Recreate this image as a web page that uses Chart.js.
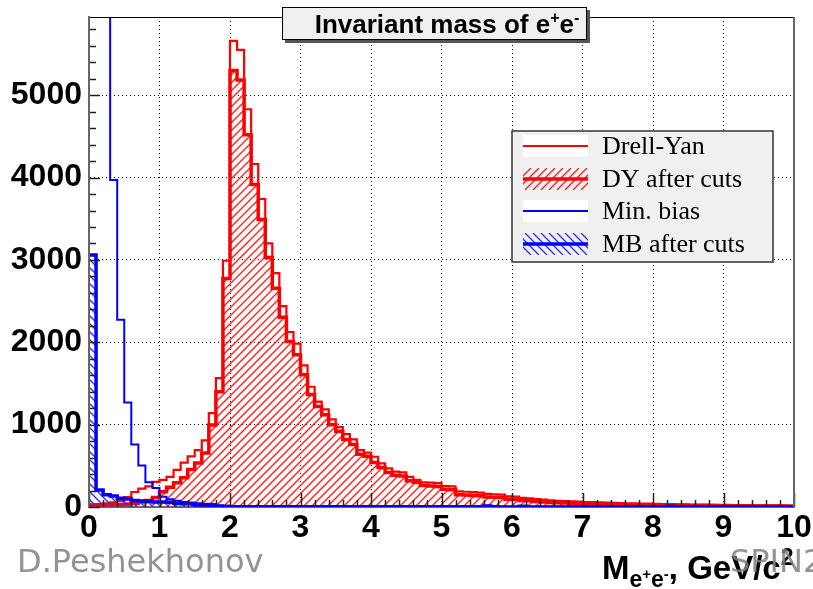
<!DOCTYPE html>
<html>
<head>
<meta charset="utf-8">
<script src="https://cdn.jsdelivr.net/npm/chart.js@4.4.0/dist/chart.umd.min.js"></script>
<style>
body { margin: 0; background: #fff; }
#chart-container { width: 813px; height: 589px; position: relative; }
</style>
</head>
<body>
<div id="chart-container"><canvas id="chart"></canvas></div>
<script>
// histogram binning: 100 bins of 0.1 GeV/c^2
var binWidth = 0.1;
var binLow = [];
for (var i = 0; i < 100; i++) binLow.push(Math.round(i * binWidth * 10) / 10);

var xTicks = [0, 1, 2, 3, 4, 5, 6, 7, 8, 9, 10];
var yTicks = [0, 1000, 2000, 3000, 4000, 5000];
var yMax = 5950;

var drellYan = [
  30, 35, 45, 55, 75, 121, 182, 223, 251, 304,
  330, 365, 450, 540, 615, 690, 810, 1140, 1565, 2990,
  5660, 5550, 4830, 4165, 3740, 3200, 2840, 2440, 2125, 1985,
  1720, 1460, 1280, 1185, 1065, 970, 885, 820, 690, 660,
  610, 530, 470, 430, 420, 365, 330, 300, 295, 290,
  255, 250, 190, 185, 180, 175, 160, 155, 150, 130,
  125, 110, 105, 95, 90, 80, 75, 72, 70, 65,
  60, 58, 55, 52, 50, 48, 45, 44, 42, 40,
  38, 36, 35, 33, 32, 30, 30, 28, 27, 26,
  25, 24, 23, 22, 21, 20, 20, 19, 18, 17
];
var dyAfterCuts = [
  20, 22, 25, 28, 30, 35, 45, 60, 80, 115,
  185, 240, 295, 355, 455, 535, 655, 995, 1400, 2775,
  5300, 5185, 4520, 3915, 3490, 3030, 2655, 2305, 2010, 1850,
  1605, 1365, 1220, 1120, 1000, 920, 820, 760, 640, 615,
  540, 480, 420, 385, 375, 320, 300, 260, 255, 250,
  215, 210, 150, 145, 140, 138, 120, 118, 115, 95,
  90, 78, 75, 68, 62, 55, 52, 48, 46, 44,
  40, 38, 36, 35, 33, 31, 30, 28, 27, 26,
  25, 24, 22, 21, 20, 19, 18, 18, 17, 16,
  15, 15, 14, 13, 13, 12, 12, 11, 11, 10
];
var minBias = [
  30000, 26000, 12000, 3970, 2275, 1270, 760, 505, 300, 230,
  125, 95, 75, 62, 55, 45, 40, 35, 20, 15,
  12, 12, 11, 11, 10, 10, 9, 9, 9, 8,
  8, 8, 7, 7, 7, 7, 6, 6, 6, 6,
  6, 5, 5, 5, 5, 5, 5, 4, 4, 4,
  4, 4, 4, 4, 4, 4, 14, 4, 3, 3,
  3, 12, 3, 3, 3, 3, 3, 3, 3, 3,
  3, 3, 2, 2, 2, 2, 2, 2, 2, 2,
  2, 2, 12, 2, 2, 2, 2, 2, 2, 2,
  2, 2, 2, 2, 2, 2, 2, 2, 2, 2
];
var mbAfterCuts = [
  3060, 205, 150, 135, 105, 98, 78, 72, 70, 62,
  60, 58, 45, 40, 38, 24, 20, 17, 6, 5,
  4, 4, 4, 3, 3, 3, 3, 3, 3, 3,
  3, 3, 2, 2, 2, 2, 2, 2, 2, 2,
  2, 2, 2, 2, 2, 2, 2, 2, 2, 2,
  2, 2, 2, 2, 2, 2, 12, 2, 1, 1,
  1, 10, 1, 1, 1, 1, 1, 1, 1, 1,
  1, 1, 1, 1, 1, 1, 1, 1, 1, 1,
  1, 1, 10, 1, 1, 1, 1, 1, 1, 1,
  1, 1, 1, 1, 1, 1, 1, 1, 1, 1
];
var legendLabels = ['Drell-Yan', 'DY after cuts', 'Min. bias', 'MB after cuts'];

// ヒストグラムの点（左端＋最後の右端）
function histPoints(vals) {
  var pts = binLow.map(function(x, i) { return { x: x, y: vals[i] }; });
  pts.push({ x: binLow[binLow.length - 1] + binWidth, y: vals[vals.length - 1] });
  return pts;
}

// 斜線を引く（クリップ済みの領域に）
function strokeHatch(c, box, color, dir) {
  var h = box.bottom - box.top;
  c.setLineDash([]);
  c.strokeStyle = color;
  c.lineWidth = 1.4;
  c.beginPath();
  for (var x = box.left - h - 8; x <= box.right + h; x += 8) {
    if (dir > 0) { c.moveTo(x, box.bottom); c.lineTo(x + h, box.top); }
    else { c.moveTo(x, box.top); c.lineTo(x + h, box.bottom); }
  }
  c.stroke();
}

var hatchFill = {
  id: 'hatchFill',
  beforeDatasetDraw: function(chart, args) {
    var d = chart.data.datasets[args.index];
    if (!d.hatchColor) return;
    var c = chart.ctx, a = chart.chartArea;
    var pts = args.meta.data;
    c.save();
    c.beginPath();
    c.rect(a.left, a.top, a.right - a.left, a.bottom - a.top);
    c.clip();
    c.beginPath();
    c.moveTo(pts[0].x, a.bottom);
    for (var k = 0; k < pts.length - 1; k++) {
      c.lineTo(pts[k].x, pts[k].y);
      c.lineTo(pts[k + 1].x, pts[k].y);
    }
    c.lineTo(pts[pts.length - 1].x, a.bottom);
    c.closePath();
    c.clip();
    strokeHatch(c, a, d.hatchColor, d.hatchDir);
    c.restore();
  }
};

var rootStyle = {
  id: 'rootStyle',
  beforeDraw: function(chart) {
    var c = chart.ctx;
    c.save();
    c.fillStyle = '#fff';
    c.fillRect(0, 0, chart.width, chart.height);
    c.restore();
  },
  afterDatasetsDraw: function(chart) {
    var c = chart.ctx, a = chart.chartArea;
    var xs = chart.scales.x, ys = chart.scales.y;
    c.save();
    // ticks inside the frame
    c.strokeStyle = '#222';
    c.lineWidth = 1.5;
    c.beginPath();
    for (var k = 0; k <= 50; k++) {
      var px = Math.round(xs.getPixelForValue(k * 0.2)) + 0.5;
      var len = (k % 5 === 0) ? 14 : 7;
      c.moveTo(px, a.bottom);
      c.lineTo(px, a.bottom - len);
    }
    for (var j = 0; j * 200 <= yMax; j++) {
      var py = Math.round(ys.getPixelForValue(j * 200)) + 0.5;
      var ylen = (j % 5 === 0) ? 11 : 7;
      c.moveTo(a.left, py);
      c.lineTo(a.left + ylen, py);
    }
    c.stroke();
    // frame
    c.strokeStyle = '#000';
    c.lineWidth = 1.2;
    c.beginPath();
    c.moveTo(a.left, a.top + 0.5);
    c.lineTo(a.right, a.top + 0.5);
    c.stroke();
    c.strokeStyle = '#666';
    c.lineWidth = 2;
    c.beginPath();
    c.moveTo(a.right, a.top);
    c.lineTo(a.right, a.bottom);
    c.moveTo(a.left, a.top);
    c.lineTo(a.left, a.bottom);
    c.stroke();
    c.restore();
  },
  afterDraw: function(chart) {
    var c = chart.ctx;
    c.save();
    // title box
    c.fillStyle = '#555';
    c.fillRect(285, 10, 305, 33);
    c.fillStyle = '#f0f0f0';
    c.fillRect(282, 7, 305, 33);
    c.strokeStyle = '#000';
    c.lineWidth = 1;
    c.strokeRect(282.5, 7.5, 304, 32);
    c.fillStyle = '#000';
    c.textBaseline = 'alphabetic';
    var big = 'bold 26px "Liberation Sans", Arial, sans-serif';
    var sup = 'bold 16px "Liberation Sans", Arial, sans-serif';
    var parts = [['Invariant mass of e', big, 0], ['+', sup, -10], ['e', big, 0], ['-', sup, -10]];
    var tw = 0;
    parts.forEach(function(p) { c.font = p[1]; tw += c.measureText(p[0]).width; });
    var tx = 447 - tw / 2;
    parts.forEach(function(p) { c.font = p[1]; c.fillText(p[0], tx, 33 + p[2]); tx += c.measureText(p[0]).width; });

    // legend
    c.fillStyle = '#f0f0f0';
    c.fillRect(512, 131, 261, 131);
    c.strokeStyle = '#333';
    c.lineWidth = 1.5;
    c.strokeRect(512, 131, 261, 131);
    var rows = [146, 179, 211, 244];
    var ds = chart.data.datasets;
    legendLabels.forEach(function(lab, r) {
      var d = ds.filter(function(q) { return q.label === lab; })[0];
      var y = rows[r];
      var box = { left: 523, right: 588, top: y - 11, bottom: y + 11 };
      c.save();
      c.beginPath();
      c.rect(box.left, box.top, 65, 22);
      c.clip();
      if (d.hatchColor) {
        strokeHatch(c, box, d.hatchColor, d.hatchDir);
      } else {
        c.fillStyle = '#fff';
        c.fillRect(box.left, box.top, 65, 22);
      }
      c.restore();
      c.strokeStyle = d.borderColor;
      c.lineWidth = d.borderWidth;
      c.beginPath();
      c.moveTo(523, y);
      c.lineTo(588, y);
      c.stroke();
      c.fillStyle = '#000';
      c.font = '26px "Liberation Serif", "Times New Roman", serif';
      c.textBaseline = 'middle';
      c.fillText(d.label, 602, y + 1);
    });

    // axis title
    c.textBaseline = 'alphabetic';
    var f1 = 'bold 33px "Liberation Sans", Arial, sans-serif';
    var f2 = 'bold 23px "Liberation Sans", Arial, sans-serif';
    var f3 = 'bold 15px "Liberation Sans", Arial, sans-serif';
    var ax = [['M', f1, 0], ['e', f2, 8], ['+', f3, 0], ['e', f2, 8], ['-', f3, 0], [', GeV/c', f1, 0], ['2', f2, -14]];
    var x0 = 602;
    ax.forEach(function(p) { c.font = p[1]; c.fillText(p[0], x0, 579 + p[2]); x0 += c.measureText(p[0]).width; });

    // watermark texts
    c.fillStyle = 'rgba(128,128,128,0.85)';
    c.font = '32px "DejaVu Sans", sans-serif';
    c.fillText('D.Peshekhonov', 17, 572);
    c.fillText('SPIN2', 730, 572);
    c.restore();
  }
};

var chart = new Chart(document.getElementById('chart').getContext('2d'), {
  type: 'line',
  data: {
    datasets: [{
      label: 'MB after cuts',
      data: histPoints(mbAfterCuts),
      borderColor: '#0000ff',
      borderWidth: 3.5,
      hatchColor: '#3333ff',
      hatchDir: -1,
      fill: false,
      order: 1
    }, {
      label: 'Min. bias',
      data: histPoints(minBias),
      borderColor: '#0000ff',
      borderWidth: 2,
      fill: false,
      order: 2
    }, {
      label: 'Drell-Yan',
      data: histPoints(drellYan),
      borderColor: '#ff0000',
      borderWidth: 2.2,
      fill: false,
      order: 3
    }, {
      label: 'DY after cuts',
      data: histPoints(dyAfterCuts),
      borderColor: '#ff0000',
      borderWidth: 3.5,
      hatchColor: '#ff2020',
      hatchDir: 1,
      fill: false,
      order: 4
    }]
  },
  options: {
    responsive: true,
    maintainAspectRatio: false,
    animation: false,
    events: [],
    elements: { point: { radius: 0 }, line: { tension: 0, stepped: true } },
    layout: { padding: { top: 17, right: 19, left: 0, bottom: 0 } },
    plugins: { legend: { display: false }, tooltip: { enabled: false }, title: { display: false } },
    scales: {
      x: {
        type: 'linear',
        min: 0,
        max: 10,
        afterBuildTicks: function(s) { s.ticks = xTicks.map(function(v) { return { value: v }; }); },
        afterFit: function(s) { s.height = 82; s.paddingLeft = 0; s.paddingRight = 0; },
        grid: { color: '#000', lineWidth: 1, drawTicks: false },
        border: { display: true, color: '#666', width: 2, dash: [1, 3] },
        ticks: {
          autoSkip: false,
          maxRotation: 0,
          padding: 2,
          color: '#000',
          callback: function(v) { return String(v); },
          font: { family: '"Liberation Sans", Arial, sans-serif', size: 32, weight: 'bold' }
        }
      },
      y: {
        min: 0,
        max: yMax,
        afterBuildTicks: function(s) { s.ticks = yTicks.map(function(v) { return { value: v }; }); },
        afterFit: function(s) { s.width = 89; s.paddingTop = 0; s.paddingBottom = 0; },
        grid: { color: '#000', lineWidth: 1, drawTicks: false },
        border: { display: true, color: '#666', width: 2, dash: [1, 3] },
        ticks: {
          autoSkip: false,
          padding: 7,
          color: '#000',
          callback: function(v) { return String(v); },
          font: { family: '"Liberation Sans", Arial, sans-serif', size: 32, weight: 'bold' }
        }
      }
    }
  },
  plugins: [hatchFill, rootStyle]
});
</script>
</body>
</html>
